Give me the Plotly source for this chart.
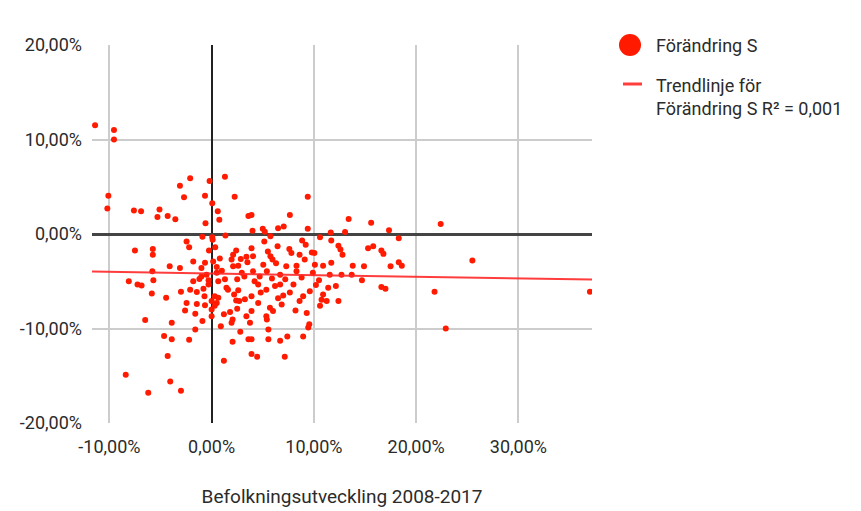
import plotly.graph_objects as go

# Population change 2008-2017 (%), and change for S (%)
x_pop = [
    -11.4, -9.55, -9.55, -10.1, -10.2, -7.6, -6.9, -5.3, -5.1, -2.1, -3.1, -0.2, 1.3, -2.7, -0.65, 2.25,
    0.06, 0.6, -4.3, -3.55, 0.75, -0.6, 3.6, -0.9, 0.06, 0.1, 1.35, -2.45, -2.2, -5.75, -5.75, -0.26,
    0.35, 2.4, 2.1, 1.95, 2.85, 3.4, 0.8, -1.8, -0.65, 0.15, -4.1, -3.1, -1.0, 0.5, 2.1, 2.6,
    9.4, 7.65, 3.9, 13.4, 4.0, 5.0, 5.2, 6.5, 7.05, 9.4, 5.75, 10.6, 11.65, 11.7, 13.05, 5.15,
    8.85, 9.2, 3.9, 6.45, 7.6, 7.8, 9.8, 10.05, 12.4, 12.6, 12.8, 5.5, 5.75, 5.95, 8.6, 9.1,
    4.05, 5.05, 8.3, 10.1, 10.9, 11.7, 7.3,
    15.6, 22.4, 17.35, 18.3, 15.3, 15.8, 16.6, 16.8, 13.8, 14.9, 17.5, 18.3, 18.6,
    13.7, 14.7, 16.6, 17.0, 21.8, 22.9, 25.5, 37.0,
    -5.7, -5.85, -4.45, -3.0, -2.1, -1.45, -0.8, -0.7, -0.3, -2.45, -1.45, -0.65, -2.6, -1.6, -0.9, -3.9,
    -1.6, -4.65, -3.9, -2.2, -4.3, 0.0, 0.0, 0.0, 0.65, 0.5, 0.3, 0.9, 1.2, 1.8, 2.05, 1.95,
    1.45, 1.6, 2.4, 2.7, 2.5, 2.6, 3.25, 2.8, 2.05, 1.2, 3.4, 3.6, -5.8, -1.8, -1.2, -1.0,
    -0.5, 0.5, 0.65, 1.3, 2.5, 2.95, 0.3,
    4.05, 4.7, 5.4, 6.7, 8.3, 9.9, 11.55, 12.7, 4.55, 6.2, 6.7, 5.35, 8.0, 9.6, 7.65, 7.0,
    8.95, 8.6, 3.9, 4.55, 5.7, 6.0, 6.85, 3.9, 5.35, 5.4, 9.3, 9.55, 9.45, 3.75, 5.55, 10.9,
    11.4, 12.15, 10.75, 10.6, 11.25, 12.4, 3.9, 5.55, 6.7, 7.4, 8.95, 3.9, 4.45, 7.15,
    -7.5, -8.1, -7.25, -6.85, -6.5, -8.4, -6.2, -4.05, -3.0,
    3.2, 4.2, 5.9, 7.2, 8.8, 10.5, 3.5, 6.3, 1.0, -0.3, 4.8, 6.5, 8.2, 2.2, 10.2,
]
y_s = [
    11.5, 11.0, 10.0, 4.05, 2.7, 2.5, 2.4, 1.8, 2.6, 5.9, 5.1, 5.6, 6.05, 3.9, 4.05, 3.95,
    3.25, 2.4, 1.9, 1.55, 1.5, 1.15, 1.9, -0.3, -0.35, -0.6, -0.15, -0.8, -1.4, -1.6, -2.2, -1.75,
    -1.4, -1.75, -2.2, -2.7, -2.65, -2.4, -2.6, -2.9, -3.05, -2.9, -3.4, -3.6, -3.6, -3.5, -3.4, -3.35,
    3.95, 2.0, 2.0, 1.6, 0.35, 0.55, 0.25, 0.6, 0.8, 0.55, -0.25, -0.35, 0.15, -0.7, 0.2, -0.8,
    -0.7, -1.15, -1.5, -1.3, -1.6, -2.0, -1.95, -2.0, -1.25, -1.65, -2.2, -1.85, -2.35, -2.7, -2.2, -2.7,
    -2.35, -3.25, -3.35, -3.25, -3.35, -3.05, -3.4,
    1.2, 1.05, 0.4, -0.45, -1.5, -1.3, -1.75, -2.1, -3.35, -3.4, -3.4, -3.0, -3.35,
    -4.3, -4.9, -5.6, -5.8, -6.1, -10.0, -2.8, -6.1,
    -4.9, -6.3, -6.75, -6.1, -5.9, -6.15, -5.8, -6.6, -5.35, -7.3, -7.4, -7.55, -8.1, -8.45, -9.2, -9.4,
    -10.1, -10.8, -11.15, -11.2, -12.9, -7.1, -8.0, -8.7, -6.75, -7.3, -7.6, -9.75, -8.5, -8.25, -9.05, -9.4,
    -5.7, -5.9, -7.05, -7.1, -7.9, -5.95, -6.9, -10.35, -11.4, -13.4, -8.7, -11.15, -3.95, -5.0, -4.75, -4.5,
    -4.3, -4.1, -5.0, -4.8, -4.8, -4.1, -6.6,
    -3.95, -4.5, -3.95, -4.3, -3.95, -4.1, -4.3, -4.3, -5.35, -5.5, -5.35, -5.9, -5.35, -6.05, -6.2, -6.5,
    -6.6, -7.1, -6.6, -7.3, -7.8, -8.15, -7.45, -8.15, -8.7, -9.05, -8.35, -9.55, -9.9, -9.4, -10.1, -6.4,
    -5.7, -5.5, -6.95, -7.6, -7.1, -7.1, -11.15, -11.15, -11.3, -10.85, -10.85, -12.7, -13.0, -13.0,
    -1.75, -5.0, -5.35, -5.45, -9.1, -14.9, -16.8, -15.6, -16.6,
    -4.5, -5.0, -4.7, -4.8, -4.6, -4.9, -3.0, -3.1, -3.9, -4.9, -6.2, -6.8, -8.1, -6.4, -5.4,
]

# Trend line end points
trend_x = [-11.7, 37.2]
trend_y = [-3.98, -4.82]

x_ticks = [-10, 0, 10, 20, 30]
x_tick_labels = ["-10,00%", "0,00%", "10,00%", "20,00%", "30,00%"]
y_ticks = [-20, -10, 0, 10, 20]
y_tick_labels = ["-20,00%", "-10,00%", "0,00%", "10,00%", "20,00%"]

series_name = "Förändring S"
trend_name = "Trendlinje för<br>Förändring S R² = 0,001"

point_color = "#ff1a00"
trend_color = "rgba(255,40,40,0.9)"
text_color = "#2b2b2b"

fig = go.Figure()
fig.add_trace(go.Scatter(
    x=x_pop, y=y_s, mode="markers", name=series_name,
    marker=dict(size=6, color=point_color), showlegend=False,
))
fig.add_trace(go.Scatter(
    x=trend_x, y=trend_y, mode="lines", name=trend_name,
    line=dict(color=trend_color, width=2), showlegend=False,
))

# page body has an 8px margin: work in screen coordinates and shift
OFF = 8
W, H = 861 - OFF, 511 - OFF
plot_left, plot_right, plot_top, plot_bottom = 92 - OFF, 592 - OFF, 45 - OFF, 423 - OFF
ml, mr, mt, mb = plot_left, W - plot_right, plot_top, H - plot_bottom
pw = plot_right - plot_left
ph = plot_bottom - plot_top

def px_x(p):
    return (p - OFF - ml) / pw

def px_y(p):
    return (plot_bottom - (p - OFF)) / ph

font = "Roboto, Arial, sans-serif"

# legend drawn by hand (large circle symbol as in the original)
fig.add_shape(type="circle", xref="paper", yref="paper",
              xsizemode="pixel", ysizemode="pixel",
              xanchor=px_x(630), yanchor=px_y(45),
              x0=-11, x1=11, y0=-11, y1=11,
              fillcolor=point_color, line=dict(width=0))
fig.add_shape(type="line", xref="paper", yref="paper",
              x0=px_x(623), x1=px_x(642), y0=px_y(84), y1=px_y(84),
              line=dict(color=trend_color, width=3))
fig.add_annotation(text=series_name, xref="paper", yref="paper",
                   x=px_x(654), y=px_y(45), xanchor="left", yanchor="middle",
                   showarrow=False, font=dict(family=font, size=18, color=text_color))
fig.add_annotation(text=trend_name, xref="paper", yref="paper",
                   x=px_x(654), y=px_y(97), xanchor="left", yanchor="middle",
                   showarrow=False, align="left",
                   font=dict(family=font, size=18, color=text_color))

fig.update_layout(
    width=W, height=H,
    margin=dict(l=ml, r=mr, t=mt, b=mb),
    paper_bgcolor="white", plot_bgcolor="white",
    font=dict(family=font, size=18, color=text_color),
    xaxis=dict(
        range=[-11.7, 37.2], tickvals=x_ticks, ticktext=x_tick_labels,
        showgrid=True, gridcolor="#cccccc", gridwidth=1.5,
        zeroline=True, zerolinecolor="#222222", zerolinewidth=1.5,
        showline=False, ticks="", ticklabelstandoff=11,
        tickfont=dict(size=18),
        title=dict(text="Befolkningsutveckling 2008-2017", standoff=33,
                   font=dict(family=font, size=19, color=text_color)),
        fixedrange=True, automargin=False,
    ),
    yaxis=dict(
        range=[-20, 20], tickvals=y_ticks, ticktext=y_tick_labels,
        showgrid=True, gridcolor="#cccccc", gridwidth=1.5,
        zeroline=True, zerolinecolor="#444444", zerolinewidth=3,
        showline=False, ticks="", ticklabelstandoff=9,
        tickfont=dict(size=18),
        fixedrange=True, automargin=False,
    ),
)

fig.write_html("out.html")
